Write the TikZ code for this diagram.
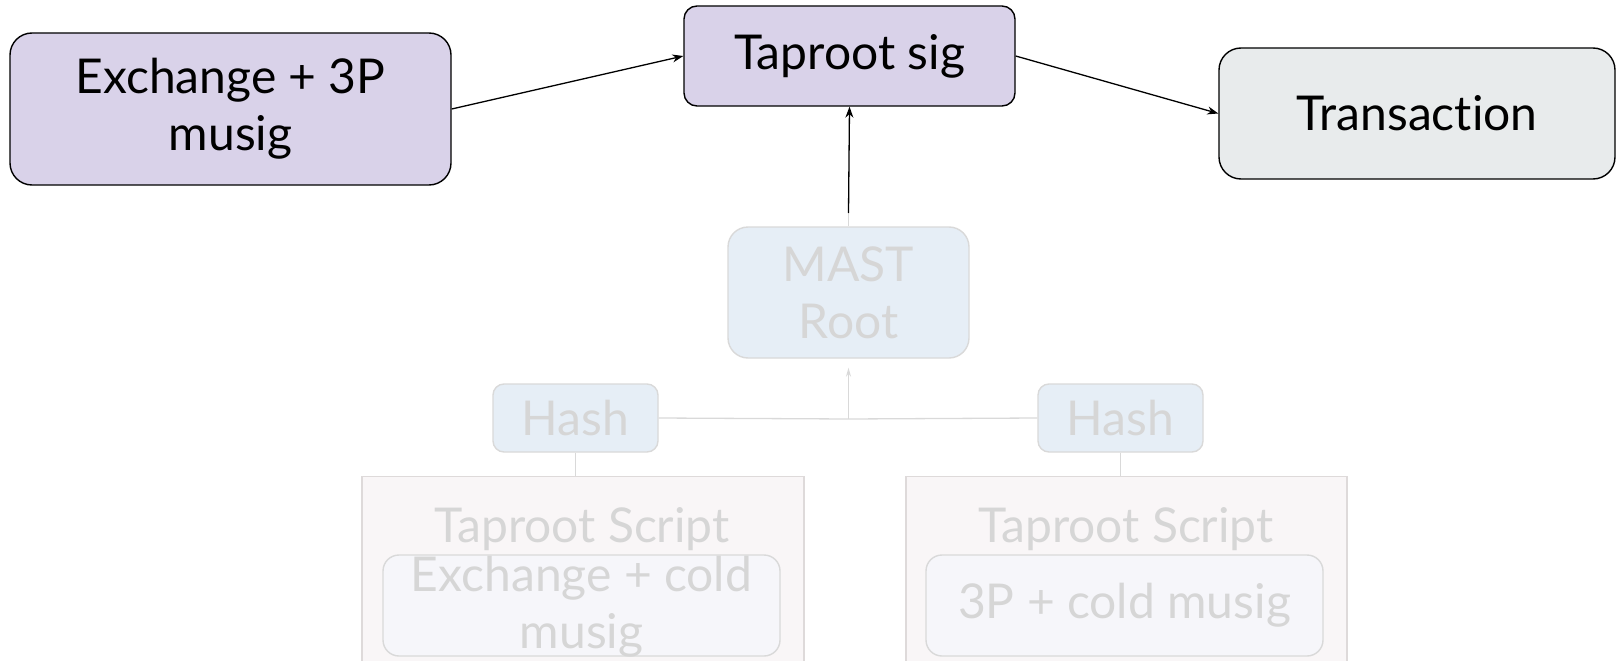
\documentclass[tikz,border=0pt]{standalone}
\usepackage{fontspec}
\setmainfont{Lato}[RawFeature=-liga]
\usetikzlibrary{arrows.meta}

\definecolor{lavender}{HTML}{D9D2E9}
\definecolor{txfill}{HTML}{E8EBEC}
\definecolor{mastfill}{HTML}{E6EEF6}
\definecolor{fadeline}{HTML}{D9D9D9}
\definecolor{fadetext}{HTML}{D6D6D6}
\definecolor{scriptfill}{HTML}{F9F6F7}
\definecolor{scriptline}{HTML}{DEDADA}
\definecolor{innerfill}{HTML}{F6F6FA}

\tikzset{
  bigtext/.style={font=\fontsize{48}{57}\selectfont, align=center},
  solidbox/.style={bigtext, draw=black, line width=1.4pt, inner sep=0pt},
  fadebox/.style={bigtext, draw=fadeline, line width=1.4pt, text=fadetext, inner sep=0pt},
  link/.style={draw=black, line width=1.3pt, -{Stealth[length=11pt,width=8pt]}},
  fadelink/.style={draw=fadeline, line width=1.3pt},
}

\begin{document}
\begin{tikzpicture}[x=1pt, y=-1pt]
\useasboundingbox (0,0) rectangle (1617,661);
\clip (0,0) rectangle (1617,661);

% signing path
\node[solidbox, fill=lavender, rounded corners=22pt, minimum width=441pt, minimum height=152pt]
  (ex3p) at (230.5,109) {Exchange + 3P\\musig};
\node[solidbox, fill=lavender, rounded corners=13pt, minimum width=331pt, minimum height=100pt]
  (tsig) at (849.5,56) {Taproot sig};
\node[solidbox, fill=txfill, rounded corners=22pt, minimum width=396pt, minimum height=131pt]
  (tx) at (1417,113.5) {Transaction};

% script tree
\node[fadebox, fill=mastfill, rounded corners=20pt, minimum width=241pt, minimum height=131pt]
  (mast) at (848.5,292.5) {MAST\\Root};
\node[fadebox, fill=mastfill, rounded corners=11pt, minimum width=165pt, minimum height=68pt]
  (hashL) at (575.5,418) {Hash};
\node[fadebox, fill=mastfill, rounded corners=11pt, minimum width=165pt, minimum height=68pt]
  (hashR) at (1120.5,418) {Hash};

\node[draw=scriptline, fill=scriptfill, line width=1.4pt, inner sep=0pt,
      minimum width=442pt, minimum height=240pt, anchor=north]
  (scriptL) at (583,476) {};
\node[draw=scriptline, fill=scriptfill, line width=1.4pt, inner sep=0pt,
      minimum width=441pt, minimum height=240pt, anchor=north]
  (scriptR) at (1126.5,476) {};
\node[bigtext, text=fadetext, anchor=base] (titleL) at (582,542) {Taproot Script};
\node[bigtext, text=fadetext, anchor=base] (titleR) at (1126,542) {Taproot Script};

\node[fadebox, fill=innerfill, rounded corners=16pt, minimum width=397pt, minimum height=101pt]
  (innerL) at (581.5,605.5) {};
\node[bigtext, text=fadetext] (innerLtext) at (581.5,607) {Exchange + cold\\musig};
\node[fadebox, fill=innerfill, rounded corners=16pt, minimum width=397pt, minimum height=101pt]
  (innerR) at (1124.5,605.5) {3P + cold musig};

% connectors
\coordinate (join) at (848.5,419);
\coordinate (fadeend) at (848.5,213);
\draw[fadelink] (hashL.east) -- (join) -- (hashR.west);
\draw[fadelink, -{Stealth[length=9pt,width=5pt]}] (join) -- ([yshift=-9pt]mast.south);
\draw[fadelink] (hashL.south) -- (hashL.south |- scriptL.north);
\draw[fadelink] (hashR.south) -- (hashR.south |- scriptR.north);
\draw[fadelink] (mast.north) -- (fadeend);

\draw[link] (fadeend) -- (tsig.south);
\draw[link] (ex3p.east) -- (tsig.west);
\draw[link] (tsig.east) -- (tx.west);
\end{tikzpicture}
\end{document}
